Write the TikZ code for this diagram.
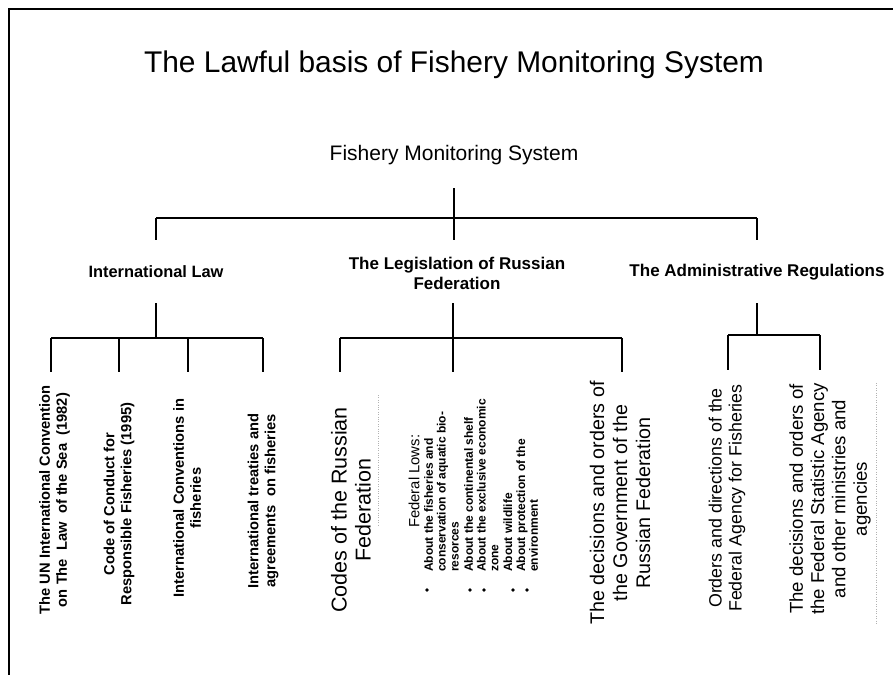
\documentclass[tikz,border=0pt]{standalone}
\usepackage{fontspec}
\setmainfont{Liberation Sans}
\usepackage{tikz}

\tikzset{
  link/.style={line width=1.5pt},
  head/.style={font=\bfseries\fontsize{17}{20}\selectfont, align=center, inner sep=0pt},
  leaf/.style={rotate=90, align=center, inner sep=0pt},
  dot/.style={circle, fill, inner sep=0pt, minimum size=3.6pt},
}

\begin{document}
\begin{tikzpicture}[x=1pt,y=-1pt]
\useasboundingbox (0,0) rectangle (893,675);
\draw[line width=2.2pt] (893,9) -- (9,9) -- (9,675);

\node[inner sep=0pt] (title) at (454,65) {\fontsize{29.9}{34}\selectfont The Lawful basis of Fishery Monitoring System};
\node[inner sep=0pt] (fms) at (454,155) {\fontsize{21}{24}\selectfont Fishery Monitoring System};

\node[head, font=\bfseries\fontsize{16.4}{20}\selectfont] (intl) at (156,272) {International Law};
\node[head] (russia) at (457,273) {The Legislation of Russian\\Federation};
\node[head] (admin) at (757,272) {The Administrative Regulations};

% first level
\coordinate (bus0) at (454,218);
\draw[link] (bus0) ++(0,-30) -- ++(0,52);
\draw[link] (bus0 -| intl) -- (bus0 -| admin);
\foreach \n in {intl,admin}
  \draw[link] (bus0 -| \n) -- +(0,22);

% international law
\coordinate (bus1) at (156,338);
\draw[link] (bus1) -- +(0,-35);
\draw[link] (51,338) -- (263,338);
\foreach \x in {51,119,188,263}
  \draw[link] (\x,338) -- +(0,34);

\node[leaf, font=\bfseries\fontsize{14.7}{17}\selectfont] (un) at (54.5,500)
  {The UN International Convention\\on The\ \ Law\ \ of the Sea\ \ (1982)};
\node[leaf, font=\bfseries\fontsize{14.7}{17}\selectfont] (code) at (119,504)
  {Code of Conduct for\\Responsible Fisheries (1995)};
\node[leaf, font=\bfseries\fontsize{14.7}{17}\selectfont] (conv) at (187,498)
  {International Conventions in\\fisheries};
\node[leaf, font=\bfseries\fontsize{14.7}{17}\selectfont] (treaties) at (263,501)
  {International treaties and\\agreements\ \ on fisheries};

% russian legislation
\coordinate (bus2) at (453,338);
\draw[link] (bus2) -- +(0,-35);
\draw[link] (340,338) -- (622,338);
\foreach \x in {340,453,622}
  \draw[link] (\x,338) -- +(0,34);

\node[leaf, font=\fontsize{21.5}{24}\selectfont] (codes) at (351,510)
  {Codes of the Russian\\Federation};
\node[rotate=90, anchor=west, inner sep=0pt, font=\fontsize{14.8}{17}\selectfont] (lows) at (414,528)
  {Federal Lows:};
\node[rotate=90, anchor=north west, align=left, inner sep=0pt,
      font=\bfseries\fontsize{12}{12.8}\selectfont] (lowlist) at (424,572)
  {About the fisheries and\\conservation of aquatic bio-\\resorces\\[1.5pt]
   About the continental shelf\\
   About the exclusive economic\\zone\\[1pt]
   About wildlife\\
   About protection of the\\environment};
\foreach \x in {427,470,484,513,527}
  \node[dot] at (\x,590) {};
\node[leaf, font=\fontsize{19.7}{23}\selectfont] (gov) at (620,503)
  {The decisions and orders of\\the Government of the\\Russian Federation};

% administrative regulations
\coordinate (bus3) at (757,335);
\draw[link] (bus3) -- +(0,-32);
\draw[link] (728,335) -- (820,335);
\foreach \x in {728,820}
  \draw[link] (\x,335) -- +(0,35);

\node[leaf, font=\fontsize{17.8}{20}\selectfont] (orders) at (727,498)
  {Orders and directions of the\\Federal Agency for Fisheries};
\node[leaf, font=\fontsize{18.6}{21.3}\selectfont] (stat) at (830,499)
  {The decisions and orders of\\the Federal Statistic Agency\\and other ministries and\\agencies};

% faint box edges
\draw[gray!60, dotted] (378,395) -- (378,525);
\draw[gray!60, dotted] (876,383) -- (876,625);
\end{tikzpicture}
\end{document}
